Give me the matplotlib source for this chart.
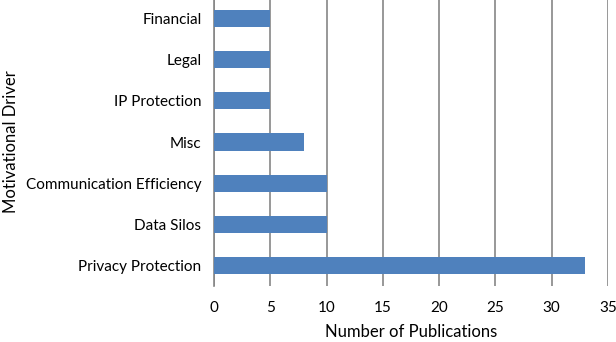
import matplotlib
matplotlib.use("Agg")
import matplotlib.pyplot as plt

categories = ["Privacy Protection", "Data Silos", "Communication Efficiency", "Misc", "IP Protection", "Legal", "Financial"]
values = [33, 10, 10, 8, 5, 5, 5]
xticks = [0, 5, 10, 15, 20, 25, 30, 35]

plt.rcParams['font.family'] = ['Lato', 'DejaVu Sans']

fig = plt.figure(figsize=(6.16, 3.42), dpi=100)
ax = fig.add_axes([214/616, 1 - 286/342, (608-214)/616, 288/342])

ax.barh(range(len(categories)), values, height=0.42, color="#4F81BD", zorder=3)
ax.set_ylim(-0.5, len(categories) - 0.5)
ax.set_xlim(0, 35)
ax.set_xticks(xticks)
ax.set_yticks(range(len(categories)))
ax.set_yticklabels(categories, fontsize=11)
ax.tick_params(axis='x', labelsize=11, length=0, pad=11)
ax.tick_params(axis='y', length=0, pad=9)
ax.grid(axis='x', color="#868686", linewidth=1.2, zorder=0)
for s in ['top', 'right', 'bottom']:
    ax.spines[s].set_visible(False)
ax.spines['left'].set_color("#868686")
ax.spines['left'].set_linewidth(1.2)
ax.set_xlabel("Number of Publications", fontsize=12, labelpad=6)
ax.set_ylabel("Motivational Driver", fontsize=12)
ax.yaxis.set_label_coords(-195/394, 0.5)

fig.savefig("out.png", dpi=100)
